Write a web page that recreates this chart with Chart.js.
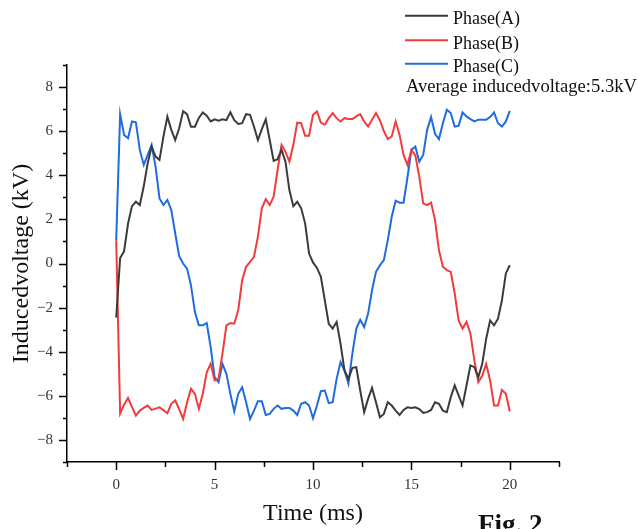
<!DOCTYPE html>
<html>
<head>
<meta charset="utf-8">
<script src="https://cdn.jsdelivr.net/npm/chart.js@4.4.1/dist/chart.umd.min.js"></script>
<style>
  html, body { margin: 0; padding: 0; background: #ffffff; }
  #wrap { width: 638px; height: 529px; position: relative; }
</style>
</head>
<body>
<div id="wrap"><canvas id="c" width="638" height="529"></canvas></div>
<script>
// ---- data ----
const timeMs = [0,0.2,0.4,0.6,0.8,1,1.2,1.4,1.6,1.8,
  2,2.2,2.4,2.6,2.8,3,3.2,3.4,3.6,3.8,
  4,4.2,4.4,4.6,4.8,5,5.2,5.4,5.6,5.8,
  6,6.2,6.4,6.6,6.8,7,7.2,7.4,7.6,7.8,
  8,8.2,8.4,8.6,8.8,9,9.2,9.4,9.6,9.8,
  10,10.2,10.4,10.6,10.8,11,11.2,11.4,11.6,11.8,
  12,12.2,12.4,12.6,12.8,13,13.2,13.4,13.6,13.8,
  14,14.2,14.4,14.6,14.8,15,15.2,15.4,15.6,15.8,
  16,16.2,16.4,16.6,16.8,17,17.2,17.4,17.6,17.8,
  18,18.2,18.4,18.6,18.8,19,19.2,19.4,19.6,19.8,
  20];

const phaseA = [-2.45, 0.25, 0.55, 1.8, 2.6, 2.8, 2.65, 3.5, 4.55, 5.3,
  4.85, 4.7, 5.75, 6.66, 6.06, 5.6, 6.13, 6.9, 6.77, 6.2,
  6.2, 6.6, 6.85, 6.7, 6.44, 6.54, 6.48, 6.54, 6.5, 6.86,
  6.5, 6.33, 6.36, 6.77, 6.74, 6.21, 5.6, 6.09, 6.54, 5.6,
  4.65, 4.73, 5.15, 4.62, 3.33, 2.6, 2.8, 2.5, 1.82, 0.45,
  0.05, -0.2, -0.6, -1.67, -2.73, -2.95, -2.65, -3.64, -4.85, -5.23,
  -4.73, -4.7, -5.76, -6.74, -6.14, -5.64, -6.29, -6.97, -6.82, -6.29,
  -6.44, -6.67, -6.87, -6.64, -6.52, -6.55, -6.52, -6.6, -6.77, -6.74,
  -6.64, -6.29, -6.36, -6.67, -6.74, -6.06, -5.53, -5.98, -6.44, -5.53,
  -4.62, -4.7, -5.15, -4.55, -3.41, -2.58, -2.8, -2.5, -1.67, -0.45,
  -0.08];

const phaseB = [1.05, -6.8, -6.4, -6.1, -6.5, -6.9, -6.67, -6.55, -6.44, -6.64,
  -6.58, -6.52, -6.65, -6.79, -6.36, -6.21, -6.6, -7.05, -6.3, -5.68,
  -5.91, -6.59, -5.91, -4.93, -4.55, -5.3, -5.23, -4.09, -2.8, -2.7,
  -2.73, -2.12, -0.76, -0.15, 0.07, 0.3, 1.21, 2.5, 2.92, 2.65,
  3.03, 4.24, 5.38, 5.07, 4.62, 5.38, 6.39, 6.36, 5.79, 5.79,
  6.74, 6.89, 6.39, 6.29, 6.59, 6.82, 6.59, 6.44, 6.59, 6.55,
  6.55, 6.67, 6.77, 6.44, 6.21, 6.52, 6.82, 6.5, 6.0, 5.64,
  5.76, 6.44, 5.83, 4.92, 4.47, 5.15, 4.9, 3.94, 2.73, 2.65,
  2.76, 1.97, 0.6, -0.15, -0.3, -0.38, -1.36, -2.58, -2.95, -2.65,
  -3.18, -4.39, -5.38, -5.08, -4.55, -5.3, -6.44, -6.44, -5.73, -5.91,
  -6.71];

const phaseC = [1.05, 6.77, 5.83, 5.68, 6.44, 6.4, 5.15, 4.47, 4.92, 5.38,
  4.39, 2.95, 2.65, 2.88, 2.42, 1.36, 0.33, 0.0, -0.23, -0.99,
  -2.2, -2.8, -2.8, -2.7, -3.79, -5.15, -5.38, -4.55, -5.0, -5.91,
  -6.71, -5.91, -5.61, -6.29, -7.05, -6.67, -6.24, -6.24, -6.87, -6.82,
  -6.59, -6.44, -6.59, -6.55, -6.55, -6.67, -6.87, -6.36, -6.29, -6.44,
  -7.02, -6.44, -5.79, -5.76, -6.33, -6.29, -5.23, -4.47, -4.85, -5.45,
  -4.09, -2.95, -2.55, -2.88, -2.27, -1.21, -0.38, -0.08, 0.15, 1.06,
  2.12, 2.85, 2.76, 2.76, 3.9, 5.15, 5.3, 4.62, 4.92, 6.06,
  6.64, 5.88, 5.64, 6.36, 6.97, 6.82, 6.21, 6.24, 6.85, 6.67,
  6.55, 6.44, 6.52, 6.52, 6.52, 6.64, 6.85, 6.36, 6.21, 6.44,
  6.92];

const seriesNames = ['Phase(A)', 'Phase(B)', 'Phase(C)'];
const noteText = 'Average inducedvoltage:5.3kV';
const xTitle = 'Time (ms)';
const yTitle = 'Inducedvoltage (kV)';
const figText = 'Fig. 2';
const xMajorTicks = [0, 5, 10, 15, 20];
const yMajorTicks = [-8, -6, -4, -2, 0, 2, 4, 6, 8];

// ---- styling ----
const colors = ['#3b3b3b', '#f23b3b', '#1f6ddc'];
const SERIF = '"Liberation Serif", "Times New Roman", serif';

function toPoints(ys) { return timeMs.map((t, i) => ({ x: t, y: ys[i] })); }

const decor = {
  id: 'decor',
  afterDraw(chart) {
    const ctx = chart.ctx;
    const xs = chart.scales.x, ys = chart.scales.y;
    const area = chart.chartArea;
    ctx.save();
    ctx.strokeStyle = '#000';
    ctx.lineWidth = 1.5;
    // x ticks
    xs.ticks.forEach(tk => {
      const px = Math.round(xs.getPixelForValue(tk.value)) + 0.5;
      const len = xMajorTicks.includes(tk.value) ? 8 : 5;
      ctx.beginPath();
      ctx.moveTo(px, area.bottom);
      ctx.lineTo(px, area.bottom + len);
      ctx.stroke();
    });
    // y ticks
    ys.ticks.forEach(tk => {
      const py = Math.round(ys.getPixelForValue(tk.value)) + 0.5;
      const len = yMajorTicks.includes(tk.value) ? 8 : 4;
      ctx.beginPath();
      ctx.moveTo(area.left, py);
      ctx.lineTo(area.left - len, py);
      ctx.stroke();
    });
    // legend
    const lineY = [15.7, 40.2, 63.8];
    ctx.font = '18px ' + SERIF;
    ctx.fillStyle = '#111';
    ctx.textAlign = 'left';
    ctx.textBaseline = 'alphabetic';
    chart.data.datasets.forEach((ds, i) => {
      ctx.strokeStyle = ds.borderColor;
      ctx.lineWidth = 2;
      ctx.beginPath();
      ctx.moveTo(405, lineY[i]);
      ctx.lineTo(448, lineY[i]);
      ctx.stroke();
      ctx.fillText(ds.label, 453, lineY[i] + 8.6);
    });
    ctx.font = '18.6px ' + SERIF;
    ctx.fillText(noteText, 406, 92);
    // figure caption (cut off at bottom as in the reference)
    ctx.font = 'bold 27px ' + SERIF;
    ctx.fillText(figText, 478, 533);
    ctx.restore();
  }
};

new Chart(document.getElementById('c'), {
  type: 'line',
  data: {
    datasets: [
      { label: seriesNames[0], data: toPoints(phaseA), borderColor: colors[0] },
      { label: seriesNames[1], data: toPoints(phaseB), borderColor: colors[1] },
      { label: seriesNames[2], data: toPoints(phaseC), borderColor: colors[2] }
    ].map(d => Object.assign(d, { borderWidth: 2, pointRadius: 0, tension: 0, fill: false }))
  },
  options: {
    responsive: false,
    animation: false,
    layout: { padding: { top: 65, right: 79, left: 0, bottom: 0 } },
    plugins: { legend: { display: false }, tooltip: { enabled: false } },
    scales: {
      x: {
        type: 'linear', min: -2.5, max: 22.5,
        grid: { display: false, tickLength: 8 },
        border: { display: true, color: '#000', width: 1.5 },
        ticks: {
          stepSize: 2.5, autoSkip: false, maxRotation: 0, padding: 6,
          color: '#333', font: { family: SERIF, size: 15 },
          callback: v => xMajorTicks.includes(v) ? String(v) : ''
        },
        title: { display: true, text: xTitle, color: '#111',
          font: { family: SERIF, size: 24 }, padding: { top: 0, bottom: 1 } },
        afterFit: s => { s.height = 67; }
      },
      y: {
        type: 'linear', min: -9, max: 9,
        grid: { display: false, tickLength: 8 },
        border: { display: true, color: '#000', width: 1.5 },
        ticks: {
          stepSize: 1, autoSkip: false, padding: 6,
          color: '#333', font: { family: SERIF, size: 15 },
          callback: v => yMajorTicks.includes(v) ? (v < 0 ? '\u2212' + Math.abs(v) : String(v)) : ''
        },
        title: { display: true, text: yTitle, color: '#111',
          font: { family: SERIF, size: 24 }, padding: { top: 7, bottom: 0 } },
        afterFit: s => { s.width = 67; }
      }
    }
  },
  plugins: [decor]
});
</script>
</body>
</html>
